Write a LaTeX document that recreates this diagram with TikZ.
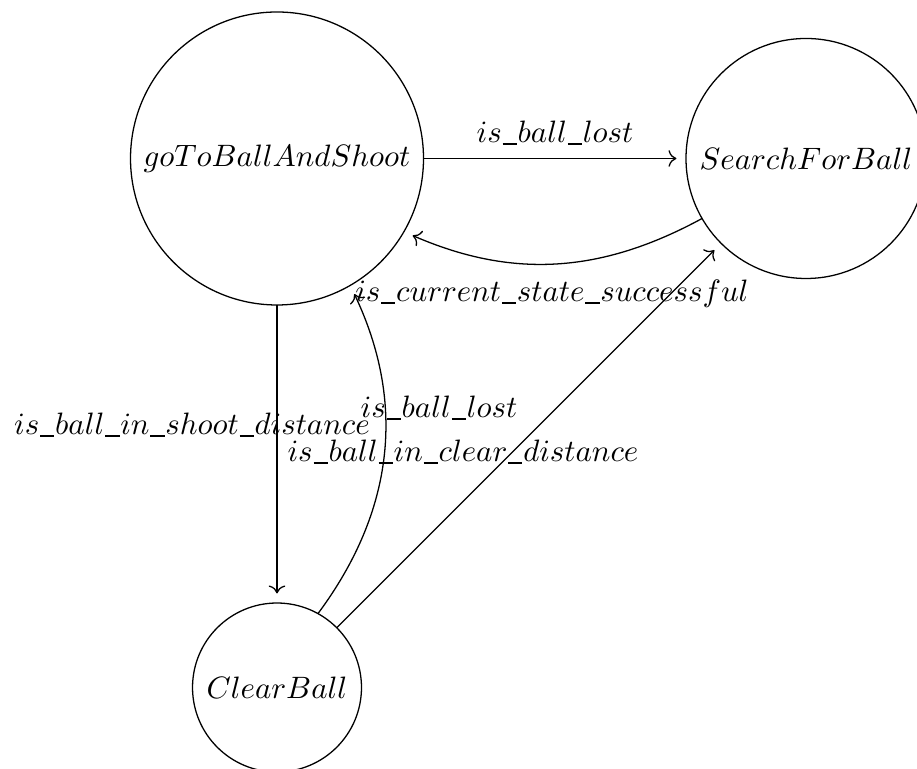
\documentclass[tikz,border=0pt]{standalone}
\usepackage{graphicx}
\usetikzlibrary{arrows.meta}
\newcommand{\us}{\kern0.25pt\vrule width 4.6pt height -0.1pt depth 0.5pt\kern0.25pt}
\newcommand{\mtxt}[1]{\scalebox{0.967}{$#1$}}
\begin{document}
\begin{tikzpicture}[x=0.3125pt,y=-0.3125pt,
  state/.style={draw,circle,inner sep=0pt,outer sep=0pt},
  trans/.style={->,shorten >=3pt},
  lbl/.style={anchor=base,inner sep=0pt}]
\useasboundingbox (0,0) rectangle (917,769);
\node[state,minimum size=91.56pt] (G) at (277,158.5) {\mtxt{goToBallAndShoot}};
\node[state,minimum size=75pt] (S) at (806,158.5) {\mtxt{SearchForBall}};
\node[state,minimum size=52.8pt] (C) at (277,687.5) {\mtxt{ClearBall}};
\draw[trans] (G) -- (S);
\draw[trans] (S.210) to[bend left=26] (G.-30);
\draw[trans] (G) -- (C);
\draw[trans] (C.61) to[bend right=31] (G.-60);
\draw[trans] (C) -- (S);
\node[lbl] (l1) at (555,143) {\mtxt{is\us ball\us lost}};
\node[lbl] (l2) at (552,302) {\mtxt{is\us current\us state\us successful}};
\node[lbl] (l3) at (192,435) {\mtxt{is\us ball\us in\us shoot\us distance}};
\node[lbl] (l4) at (439,418) {\mtxt{is\us ball\us lost}};
\node[lbl] (l5) at (463,462) {\mtxt{is\us ball\us in\us clear\us distance}};
\end{tikzpicture}
\end{document}
